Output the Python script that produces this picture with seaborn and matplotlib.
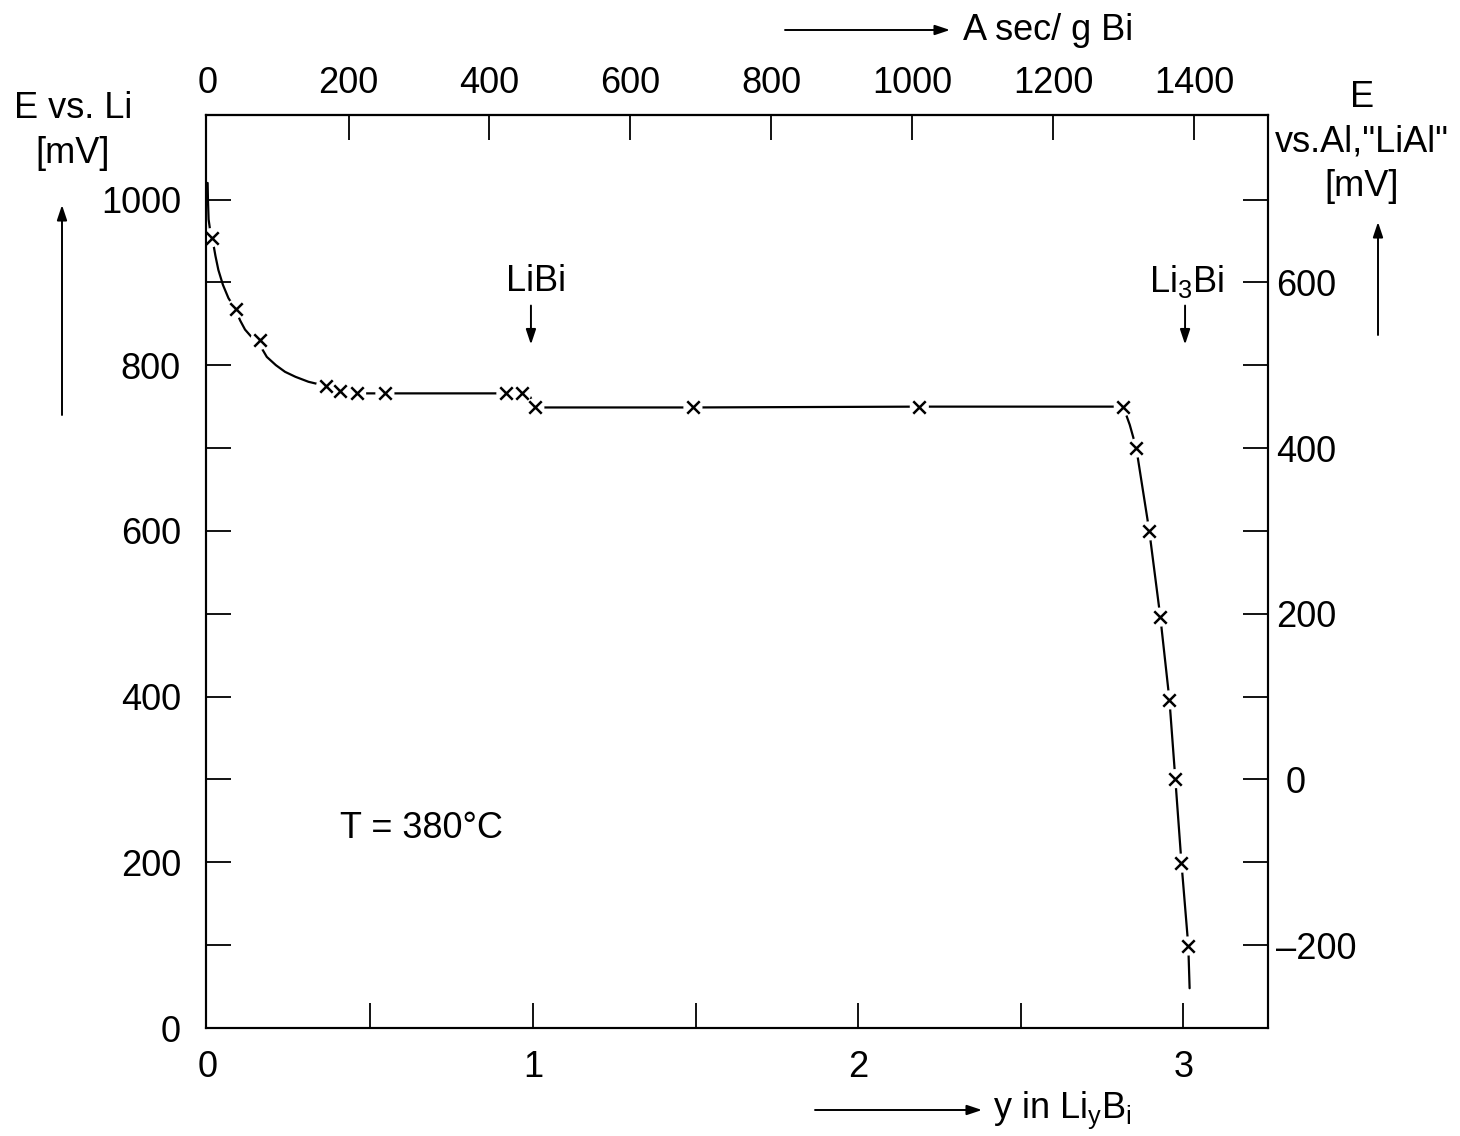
import numpy as np
import pandas as pd
import matplotlib
matplotlib.use("Agg")
import matplotlib.pyplot as plt
import matplotlib.ticker as mticker
import seaborn as sns

# ---- data ----
y_meas = [0.012, 0.086, 0.16, 0.363, 0.406, 0.458, 0.545, 0.917, 0.966, 1.006,
          1.492, 2.188, 2.815, 2.855, 2.895, 2.929, 2.957, 2.975, 2.994, 3.015]
E_meas = [954, 868, 830, 775, 769, 766, 766, 766, 766, 749,
          749, 750, 750, 700, 600, 496, 396, 301, 199, 99]

y_curve = [0.0, 0.001, 0.003, 0.008, 0.015, 0.024, 0.033, 0.047, 0.064, 0.085,
           0.10, 0.115, 0.135, 0.158, 0.182, 0.21, 0.238, 0.27, 0.31, 0.363,
           0.406, 0.458, 0.545, 0.917, 0.966, 0.99, 1.0, 1.006, 1.492,
           2.188, 2.815, 2.835, 2.855, 2.875, 2.895, 2.929, 2.957, 2.975, 2.994,
           3.015, 3.019]
E_curve = [1020, 1000, 976, 962, 952, 932, 915, 897, 881, 868,
           854, 843, 834, 826, 810, 800, 792, 786, 780, 775,
           769, 766, 766, 766, 766, 763, 756, 749, 749,
           750, 750, 728, 700, 650, 600, 496, 396, 301, 199,
           99, 48]

left_ticks = [0, 200, 400, 600, 800, 1000]
left_minor = [100, 300, 500, 700, 900]
right_ticks = [-200, 0, 200, 400, 600]
right_tick_labels = ["\u2013200", " 0", "200", "400", "600"]
right_minor = [-100, 100, 300, 500, 700]
bottom_ticks = [0, 1, 2, 3]
bottom_minor = [0.5, 1.5, 2.5]
top_ticks = [0, 200, 400, 600, 800, 1000, 1200, 1400]

AS_PER_Y = 461.6      # A sec / g Bi per unit y
OFFSET_LIAL = 300     # mV shift between Li and Al,"LiAl" reference

meas = pd.DataFrame({"y": y_meas, "E": E_meas})
curve = pd.DataFrame({"y": y_curve, "E": E_curve})

# ---- style ----
sns.set_style("ticks")
plt.rcParams["font.family"] = ["Liberation Sans", "DejaVu Sans"]
plt.rcParams["mathtext.fontset"] = "custom"
plt.rcParams["mathtext.rm"] = "Liberation Sans"
plt.rcParams["mathtext.it"] = "Liberation Sans"
for k in ["text.color", "axes.labelcolor", "xtick.color", "ytick.color",
          "axes.edgecolor"]:
    plt.rcParams[k] = "black"
FS = 26

W, H = 1460, 1136
fig = plt.figure(figsize=(W / 100, H / 100), dpi=100)
fig.patch.set_facecolor("white")
ax = fig.add_axes([206 / W, 1 - 1028 / H, (1268 - 206) / W, (1028 - 115) / H])

def fx(px):
    return px / W

def fy(py):
    return 1 - py / H

# line, white gaps, markers
sns.lineplot(data=curve, x="y", y="E", ax=ax, color="black", lw=1.6,
             sort=False, estimator=None, zorder=2)
sns.scatterplot(data=meas, x="y", y="E", ax=ax, marker="o", s=190,
                color="white", edgecolor="none", linewidth=0, zorder=3)
sns.scatterplot(data=meas, x="y", y="E", ax=ax, marker="x", s=80,
                color="black", linewidth=1.8, zorder=4)

ax.set_xlim(-0.005, 3.26)
ax.set_ylim(0, 1102)
ax.set_xlabel("")
ax.set_ylabel("")

for sp in ax.spines.values():
    sp.set_linewidth(1.5)
    sp.set_color("black")
    sp.set_visible(True)

ax.xaxis.set_major_locator(mticker.FixedLocator(bottom_ticks))
ax.xaxis.set_minor_locator(mticker.FixedLocator(bottom_minor))
ax.xaxis.set_major_formatter(mticker.FixedFormatter([str(t) for t in bottom_ticks]))
ax.yaxis.set_major_locator(mticker.FixedLocator(left_ticks))
ax.yaxis.set_minor_locator(mticker.FixedLocator(left_minor))
ax.yaxis.set_major_formatter(mticker.FixedFormatter([str(t) for t in left_ticks]))
ax.tick_params(axis="both", which="both", direction="in", length=18, width=1.3,
               labelsize=FS, colors="black")
ax.tick_params(axis="x", which="major", pad=16)
ax.tick_params(axis="y", which="major", pad=18)

# right axis (E vs Al,"LiAl")
axr = ax.twinx()
axr.set_ylim(ax.get_ylim()[0] - OFFSET_LIAL, ax.get_ylim()[1] - OFFSET_LIAL)
axr.yaxis.set_major_locator(mticker.FixedLocator(right_ticks))
axr.yaxis.set_minor_locator(mticker.FixedLocator(right_minor))
axr.yaxis.set_major_formatter(mticker.FixedFormatter(right_tick_labels))
axr.tick_params(axis="y", which="both", direction="in", length=18, width=1.3,
                labelsize=FS, pad=6, colors="black")
for sp in axr.spines.values():
    sp.set_linewidth(1.5)

# top axis (A sec/g Bi)
axt = ax.secondary_xaxis("top", functions=(lambda v: v * AS_PER_Y,
                                            lambda a: a / AS_PER_Y))
axt.xaxis.set_major_locator(mticker.FixedLocator(top_ticks))
axt.xaxis.set_major_formatter(mticker.FixedFormatter([str(t) for t in top_ticks]))
axt.tick_params(axis="x", which="major", direction="in", length=18, width=1.3,
                labelsize=FS, pad=10, colors="black")
axt.spines["top"].set_linewidth(1.5)

# hide the tick marks that sit on the left spine (x = 0)
fig.canvas.draw()
for t in ax.xaxis.get_major_ticks()[:1] + axt.xaxis.get_major_ticks()[:1]:
    t.tick1line.set_visible(False)
    t.tick2line.set_visible(False)

# in-plot annotations
arrow_kw = dict(arrowstyle="-|>,head_length=0.9,head_width=0.3", color="black",
                lw=1.4, shrinkA=0, shrinkB=0)
ax.text(1.01, 901, "LiBi", ha="center", va="center", fontsize=FS)
ax.annotate("", xy=(0.994, 825), xytext=(0.994, 872), arrowprops=arrow_kw)
ax.text(3.01, 901, r"Li$_{\mathregular{3}}$Bi", ha="center", va="center", fontsize=FS)
ax.annotate("", xy=(3.005, 825), xytext=(3.005, 872), arrowprops=arrow_kw)
ax.text(0.407, 241, "T = 380\u00b0C", ha="left", va="center", fontsize=FS)

# outer labels and arrows
fig.text(fx(73), fy(131), "E vs. Li\n[mV]", ha="center", va="center",
         fontsize=FS, multialignment="center", linespacing=1.35)
fig.text(fx(1362), fy(142), "E\nvs.Al,\"LiAl\"\n[mV]", ha="center", va="center",
         fontsize=FS, multialignment="center", linespacing=1.35)
fig.text(fx(963), fy(30), "A sec/ g Bi", ha="left", va="center", fontsize=FS)
fig.text(fx(993), fy(1110), r"y in Li$_{\mathregular{y}}$B$_{\mathregular{i}}$",
         ha="left", va="center", fontsize=FS)

def fig_arrow(x0, y0, x1, y1):
    ax.annotate("", xy=(fx(x1), fy(y1)), xycoords="figure fraction",
                xytext=(fx(x0), fy(y0)), textcoords="figure fraction",
                arrowprops=arrow_kw, annotation_clip=False)

fig_arrow(62, 415, 62, 205)
fig_arrow(1378, 335, 1378, 222)
fig_arrow(785, 30, 950, 30)
fig_arrow(815, 1110, 982, 1110)

fig.savefig("out.png", dpi=100, facecolor="white")
